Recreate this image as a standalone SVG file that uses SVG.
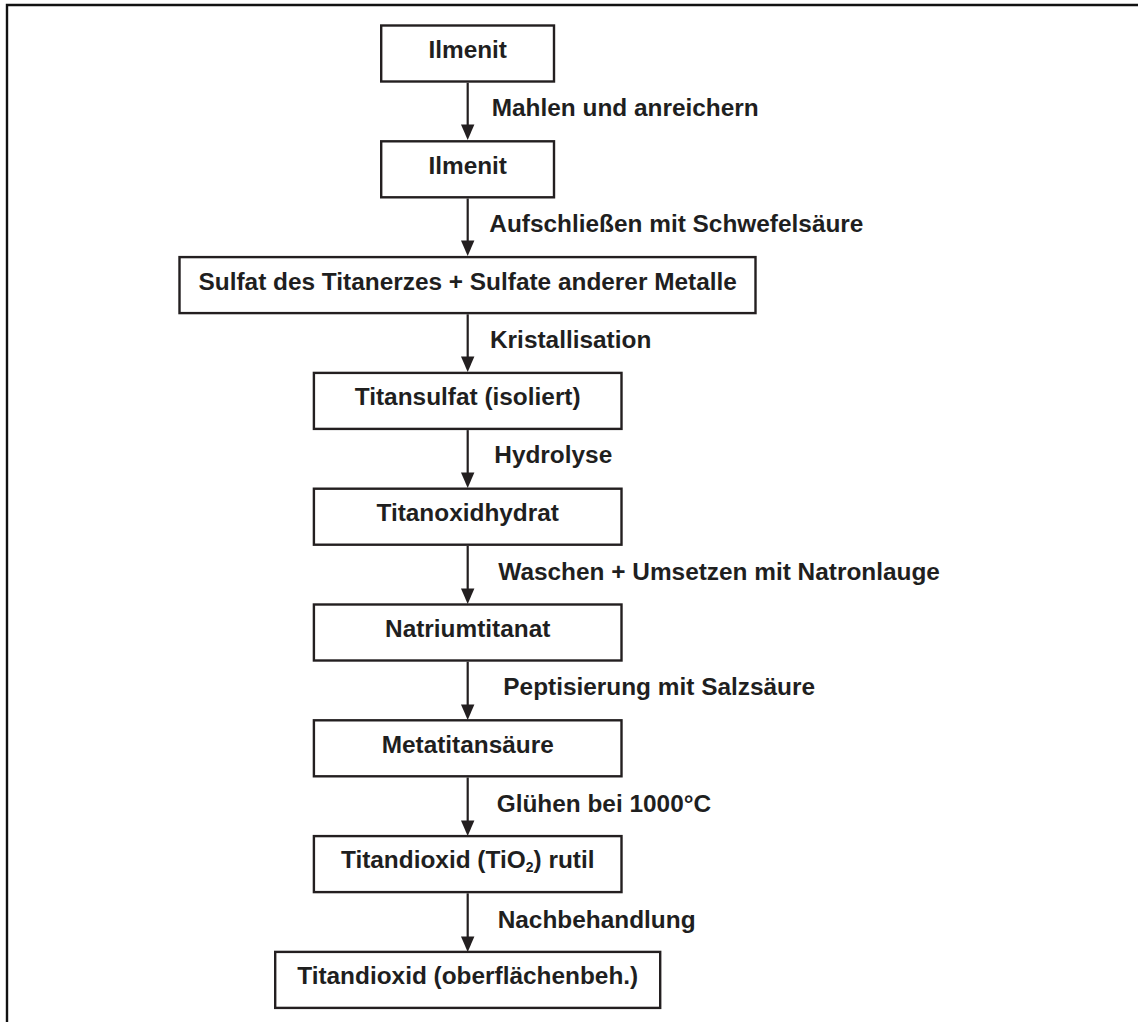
<svg xmlns="http://www.w3.org/2000/svg" width="1138" height="1022" viewBox="0 0 1138 1022">
<defs>
<style>
.box{fill:#fff;stroke:#231f20;stroke-width:2.4}
.t{font-family:"Liberation Sans",Arial,sans-serif;font-weight:bold;font-size:24.4px;fill:#1f1f1f}
.c{text-anchor:middle}
.ln{stroke:#231f20;stroke-width:2.2;fill:none}
.hd{fill:#231f20}
</style>
</defs>
<rect width="1138" height="1022" fill="#fff"/>
<path d="M7,1022 V5 H1138" fill="none" stroke="#111" stroke-width="2.4"/>
<g id="connectors">
<line class="ln" x1="467.7" y1="82.7" x2="467.7" y2="126"/><polygon class="hd" points="461,124.5 474.4,124.5 467.7,140"/>
<line class="ln" x1="467.7" y1="198.5" x2="467.7" y2="242"/><polygon class="hd" points="461,240.5 474.4,240.5 467.7,256"/>
<line class="ln" x1="467.7" y1="314.3" x2="467.7" y2="358"/><polygon class="hd" points="461,356.5 474.4,356.5 467.7,372"/>
<line class="ln" x1="467.7" y1="430.1" x2="467.7" y2="474"/><polygon class="hd" points="461,472.5 474.4,472.5 467.7,488"/>
<line class="ln" x1="467.7" y1="545.9" x2="467.7" y2="590"/><polygon class="hd" points="461,588.5 474.4,588.5 467.7,604"/>
<line class="ln" x1="467.7" y1="661.7" x2="467.7" y2="706"/><polygon class="hd" points="461,704.5 474.4,704.5 467.7,720"/>
<line class="ln" x1="467.7" y1="777.5" x2="467.7" y2="822"/><polygon class="hd" points="461,820.5 474.4,820.5 467.7,836"/>
<line class="ln" x1="467.7" y1="893.3" x2="467.7" y2="938"/><polygon class="hd" points="461,936.5 474.4,936.5 467.7,952"/>
<text class="t" x="491.7" y="115.5">Mahlen und anreichern</text>
<text class="t" x="489.3" y="232">Aufschließen mit Schwefelsäure</text>
<text class="t" x="490" y="348">Kristallisation</text>
<text class="t" x="494.3" y="463">Hydrolyse</text>
<text class="t" x="498.3" y="579.5">Waschen + Umsetzen mit Natronlauge</text>
<text class="t" x="503.3" y="695">Peptisierung mit Salzsäure</text>
<text class="t" x="496.7" y="812">Glühen bei 1000°C</text>
<text class="t" x="497.7" y="927.5">Nachbehandlung</text>
</g>
<g id="n1"><rect class="box" x="381.2" y="25.5" width="172.8" height="56"/><text class="t c" x="467.7" y="57.7">Ilmenit</text></g>
<g id="n2"><rect class="box" x="381.2" y="141.3" width="172.8" height="56"/><text class="t c" x="467.7" y="173.5">Ilmenit</text></g>
<g id="n3"><rect class="box" x="179.5" y="257.1" width="576" height="56"/><text class="t c" x="467.7" y="289.5">Sulfat des Titanerzes + Sulfate anderer Metalle</text></g>
<g id="n4"><rect class="box" x="313.9" y="372.9" width="307.6" height="56"/><text class="t c" x="467.7" y="405.3">Titansulfat (isoliert)</text></g>
<g id="n5"><rect class="box" x="313.9" y="488.7" width="307.6" height="56"/><text class="t c" x="467.7" y="521">Titanoxidhydrat</text></g>
<g id="n6"><rect class="box" x="313.9" y="604.5" width="307.6" height="56"/><text class="t c" x="467.7" y="636.8">Natriumtitanat</text></g>
<g id="n7"><rect class="box" x="313.9" y="720.3" width="307.6" height="56"/><text class="t c" x="467.7" y="752.6">Metatitansäure</text></g>
<g id="n8"><rect class="box" x="313.9" y="836.1" width="307.6" height="56"/><text class="t c" x="467.7" y="868.4">Titandioxid (TiO<tspan font-size="14" dy="4">2</tspan><tspan dy="-4">) rutil</tspan></text></g>
<g id="n9"><rect class="box" x="275.2" y="951.9" width="385" height="56"/><text class="t c" x="467.7" y="984.2">Titandioxid (oberflächenbeh.)</text></g>
</svg>
